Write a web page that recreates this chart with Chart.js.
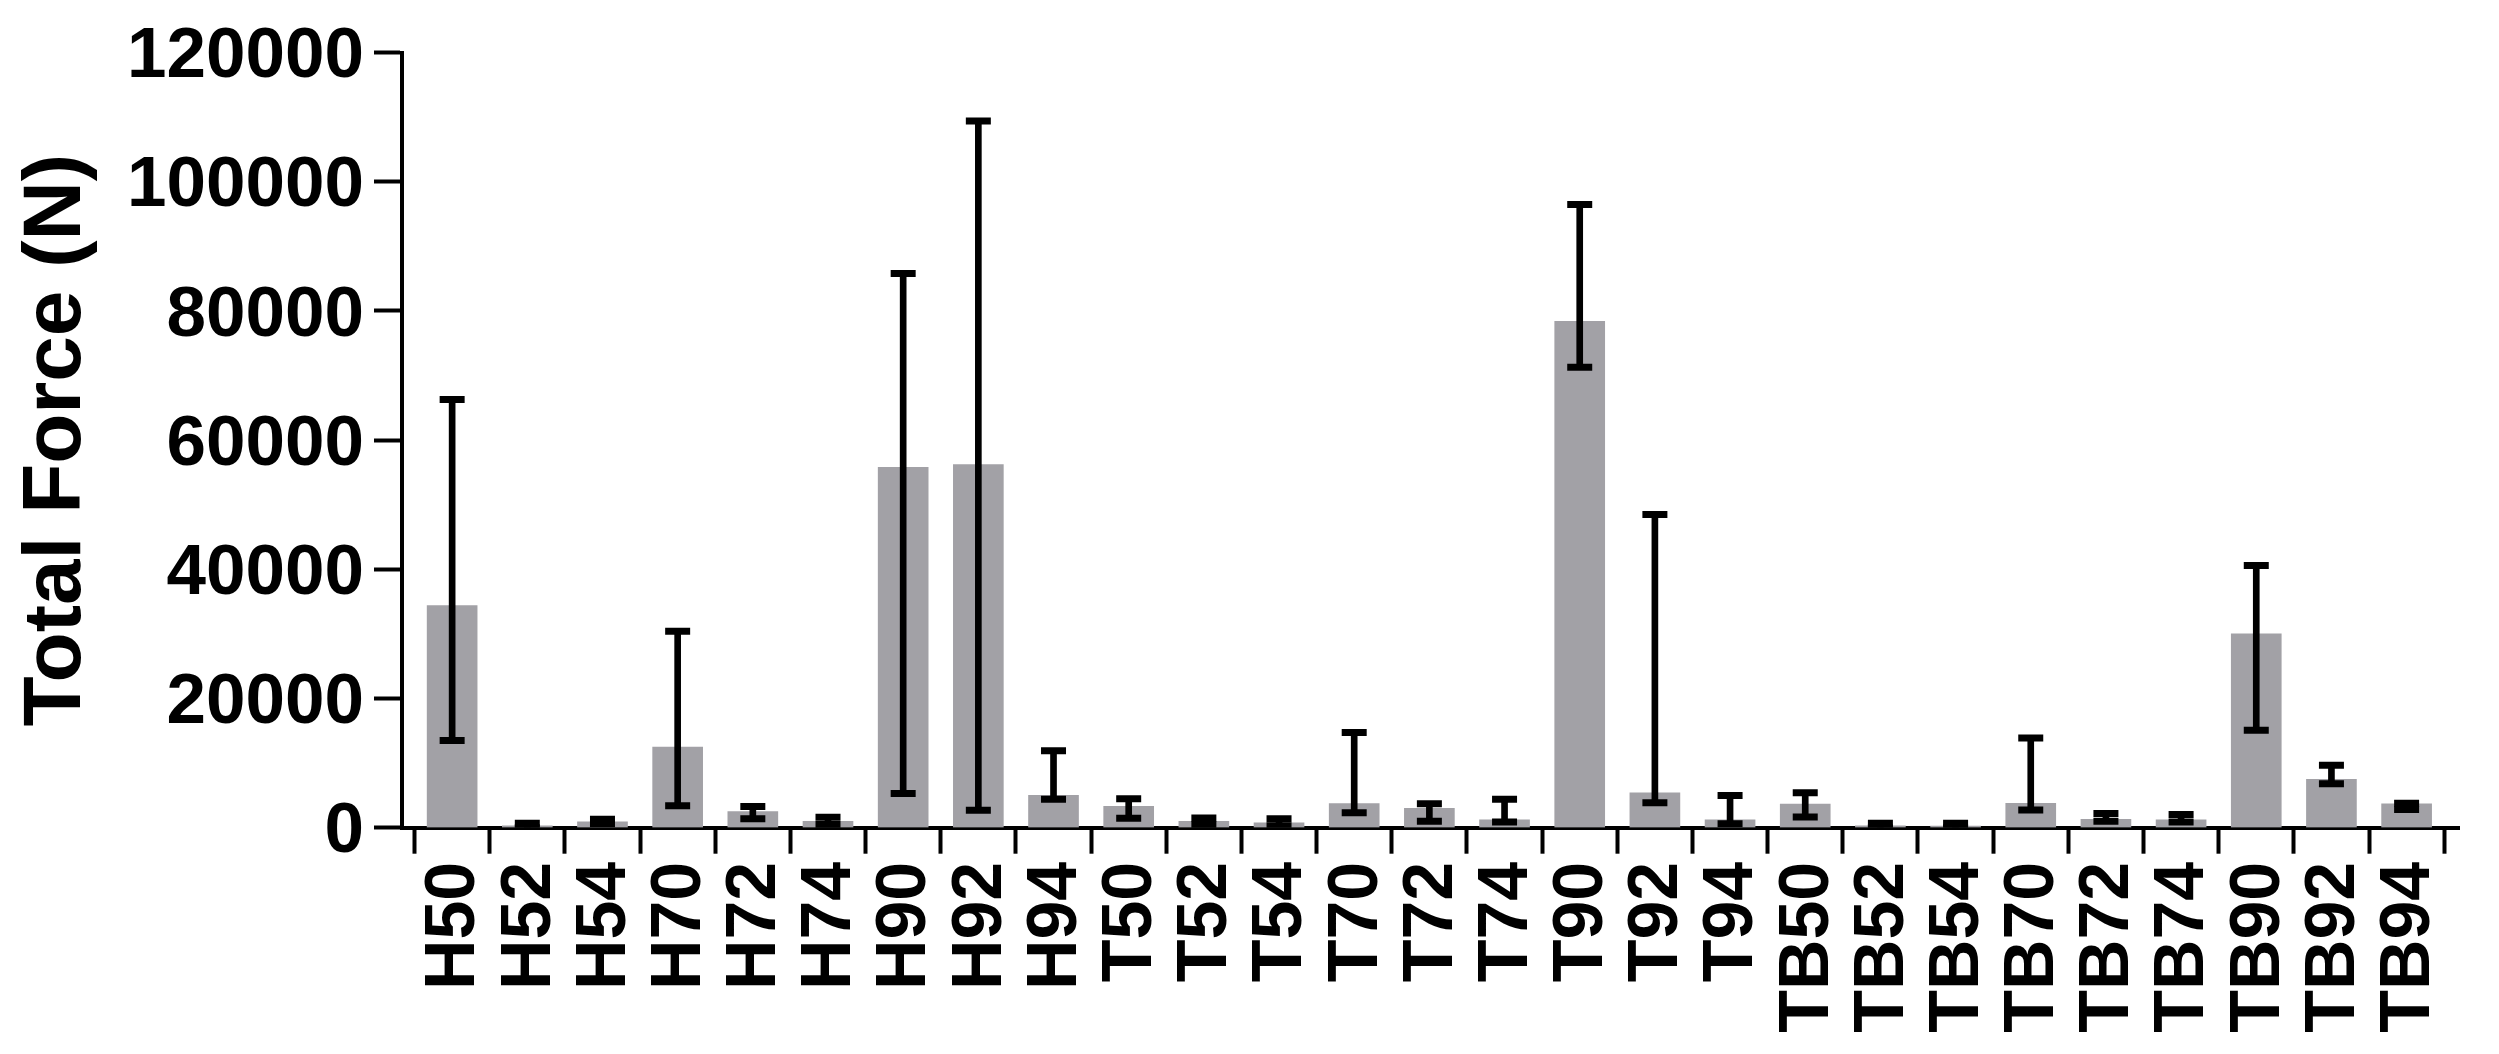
<!DOCTYPE html>
<html>
<head>
<meta charset="utf-8">
<script src="https://cdn.jsdelivr.net/npm/chart.js@4"></script>
<style>
  html, body { margin: 0; padding: 0; background: #ffffff; }
  #c { display: block; }
</style>
</head>
<body>
<canvas id="c" width="2499" height="1054"></canvas>
<script>
// ---- data ----
const categories = ['H50','H52','H54','H70','H72','H74','H90','H92','H94',
                    'T50','T52','T54','T70','T72','T74','T90','T92','T94',
                    'TB50','TB52','TB54','TB70','TB72','TB74','TB90','TB92','TB94'];
const meanForce  = [34400, 300, 900, 12500, 2500, 1000, 55800, 56200, 5000,
                    3300, 1000, 750, 3750, 3000, 1200, 78400, 5400, 1200,
                    3650, 300, 250, 3770, 1300, 1200, 30000, 7500, 3700];
const errLower   = [13500, 0, 600, 3400, 1400, 500, 5300, 2700, 4400,
                    1450, 500, 300, 2300, 1000, 900, 71300, 3850, 600,
                    1650, 0, 0, 2750, 1000, 900, 15100, 6800, 2800];
const errUpper   = [66300, 700, 1300, 30400, 3300, 1600, 85800, 109400, 11900,
                    4500, 1500, 1400, 14750, 3700, 4400, 96500, 48500, 5000,
                    5400, 700, 700, 13900, 2200, 2050, 40600, 9650, 3800];
const yTickValues = [0, 20000, 40000, 60000, 80000, 100000, 120000];
const yTitle = 'Total Force (N)';

// ---- build datasets from the arrays ----
const barData  = categories.map((_, i) => ({ x: i, y: meanForce[i] }));
const stemData = categories.map((_, i) => ({ x: i, y: [errLower[i], errUpper[i]] }));
const capData  = [];
categories.forEach((_, i) => {
  capData.push({ x: i, y: errLower[i] });
  capData.push({ x: i, y: errUpper[i] });
});

const FONT = '"Liberation Sans", Arial, Helvetica, sans-serif';

new Chart(document.getElementById('c'), {
  type: 'bar',
  data: {
    datasets: [
      {
        type: 'bar',
        data: barData,
        backgroundColor: '#a2a1a6',
        borderWidth: 0,
        barThickness: 50,
        grouped: false,
        order: 3
      },
      {
        type: 'bar',
        data: stemData,
        backgroundColor: '#000000',
        borderWidth: 0,
        barThickness: 6,
        grouped: false,
        order: 2
      },
      {
        type: 'scatter',
        data: capData,
        pointStyle: 'line',
        radius: 12.5,
        hoverRadius: 12.5,
        borderWidth: 7,
        hoverBorderWidth: 7,
        borderColor: '#000000',
        backgroundColor: '#000000',
        showLine: false,
        order: 1
      }
    ]
  },
  options: {
    responsive: false,
    devicePixelRatio: 1,
    animation: false,
    events: [],
    layout: { autoPadding: false, padding: { top: 48, right: 15, left: 0, bottom: 0 } },
    plugins: { legend: { display: false }, tooltip: { enabled: false } },
    scales: {
      x: {
        type: 'linear',
        min: -0.667,
        max: 26.71,
        offset: false,
        afterBuildTicks: (s) => { s.ticks = categories.map((_, i) => ({ value: i })); },
        afterFit: (s) => { s.height = 226.3; },
        grid: {
          display: true,
          drawOnChartArea: false,
          drawTicks: true,
          tickLength: 26,
          tickWidth: 4,
          tickColor: '#000000'
        },
        border: { display: true, color: '#000000', width: 4 },
        ticks: {
          autoSkip: false,
          minRotation: 90,
          maxRotation: 90,
          padding: 8,
          labelOffset: 3,
          color: '#000000',
          font: { family: FONT, size: 70, weight: 'bold' },
          callback: (v) => categories[v] !== undefined ? categories[v] : ''
        }
      },
      y: {
        type: 'linear',
        min: 0,
        max: 120000,
        afterBuildTicks: (s) => { s.ticks = yTickValues.map(v => ({ value: v })); },
        afterFit: (s) => { s.width = 402; },
        grid: {
          display: true,
          drawOnChartArea: false,
          drawTicks: true,
          tickLength: 28,
          tickWidth: 4,
          tickColor: '#000000'
        },
        border: { display: true, color: '#000000', width: 4 },
        ticks: {
          padding: 10,
          labelOffset: 5,
          color: '#000000',
          font: { family: FONT, size: 71, weight: 'bold' },
          callback: (v) => String(v)
        },
        title: {
          display: true,
          text: yTitle,
          color: '#000000',
          padding: { top: 8, bottom: 0 },
          font: { family: FONT, size: 82, weight: 'bold', lineHeight: 1.2 }
        }
      }
    }
  }
});
</script>
</body>
</html>
